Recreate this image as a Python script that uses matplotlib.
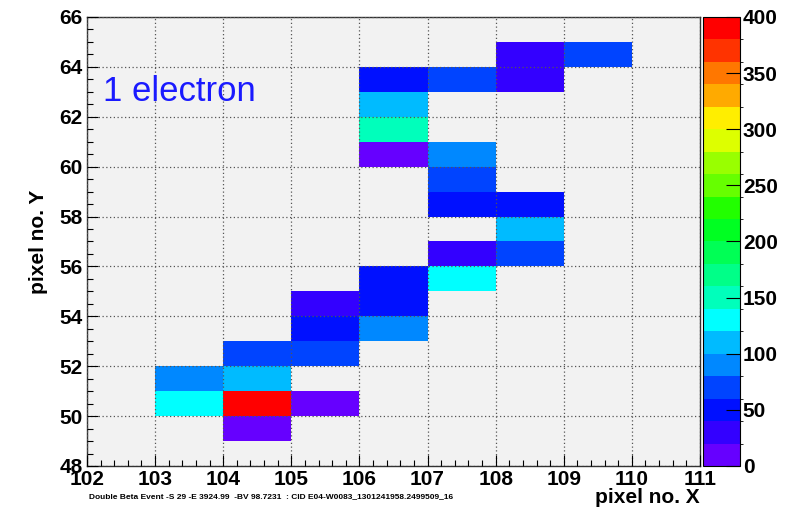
#!/usr/bin/env python3
"""ROOT-style colz hit map: one electron track in the pixel plane."""
import matplotlib
matplotlib.use("Agg")
import matplotlib.pyplot as plt
import numpy as np
from matplotlib.colors import ListedColormap, BoundaryNorm

plt.rcParams["font.family"] = ["Liberation Sans", "DejaVu Sans"]

# hit pixels and charge
pix_x = [109, 108, 108, 107, 106, 106, 106, 106, 107, 107, 107, 108, 108, 108,
         107, 107, 106, 106, 105, 105, 106, 105, 104, 104, 103, 103, 104, 105, 104]
pix_y = [64, 64, 63, 63, 63, 62, 61, 60, 60, 59, 58, 58, 57, 56,
         56, 55, 55, 54, 54, 53, 53, 52, 52, 51, 51, 50, 50, 50, 49]
charge = [72, 30, 28, 68, 50, 110, 150, 12, 92, 70, 48, 50, 112, 70,
          30, 130, 50, 48, 30, 48, 92, 68, 70, 110, 90, 132, 392, 12, 10]

x_edges = np.arange(102, 112)
y_edges = np.arange(48, 67)

# 20-step ROOT-like rainbow, 0..400
palette = ["#6600ff", "#3300ff", "#0010ff", "#0044ff", "#0088ff",
           "#00bbff", "#00ffff", "#00ffbb", "#00ff88", "#00ff55",
           "#00ff22", "#22ff00", "#66ff00", "#99ff00", "#ddff00",
           "#ffee00", "#ffaa00", "#ff7700", "#ff3300", "#ff0000"]
levels = np.linspace(0, 400, 21)

grid = np.full((len(y_edges) - 1, len(x_edges) - 1), np.nan)
for x, y, c in zip(pix_x, pix_y, charge):
    grid[y - 48, x - 102] = c

fig = plt.figure(figsize=(7.85, 5.14), dpi=100)
ax = fig.add_axes([0.1108, 0.0934, 0.7809, 0.8736])
cax = fig.add_axes([0.8955, 0.0934, 0.0472, 0.8736])

cmap = ListedColormap(palette)
norm = BoundaryNorm(levels, cmap.N)
ax.set_facecolor("#f2f2f2")
mesh = ax.pcolormesh(x_edges, y_edges, np.ma.masked_invalid(grid),
                     cmap=cmap, norm=norm)

ax.set_xlim(102, 111)
ax.set_ylim(48, 66)
ax.set_xticks(np.arange(102, 112, 1))
ax.set_xticks(np.arange(102, 111.01, 0.2), minor=True)
ax.set_yticks(np.arange(48, 67, 2))
ax.set_yticks(np.arange(48, 66.01, 0.5), minor=True)
ax.tick_params(which="both", direction="in", top=False, right=False)
ax.tick_params(which="major", length=8, width=0.8, labelsize=15, pad=3)
ax.tick_params(which="minor", length=4, width=0.8)
for lab in ax.get_xticklabels() + ax.get_yticklabels():
    lab.set_fontweight("bold")
ax.grid(True, which="major", color="#555555", linestyle=(0, (1, 2)),
        linewidth=0.9)
ax.set_axisbelow(False)
for s in ax.spines.values():
    s.set_linewidth(1.0)
    s.set_color("#333333")

ax.set_ylabel("pixel no. Y", fontsize=15, fontweight="bold", labelpad=8)
fig.text(0.8917, 0.033, "pixel no. X", fontsize=15, fontweight="bold",
         ha="right", va="center")
ax.text(0.026, 0.835, "1 electron", fontsize=25, color="#1a1aff",
        ha="left", va="center", transform=ax.transAxes)
fig.text(0.345, 0.033,
         "Double Beta Event -S 29 -E 3924.99  -BV 98.7231  : "
         "CID E04-W0083_1301241958.2499509_16",
         fontsize=6, fontweight="bold", ha="center", va="center")

cb = fig.colorbar(mesh, cax=cax, ticks=np.arange(0, 401, 50))
cb.outline.set_linewidth(0.8)
cb.ax.tick_params(direction="in", length=10, width=0.8, labelsize=15,
                  pad=2, right=True)
for lab in cb.ax.get_yticklabels():
    lab.set_fontweight("bold")

fig.savefig("out.png", dpi=100)
